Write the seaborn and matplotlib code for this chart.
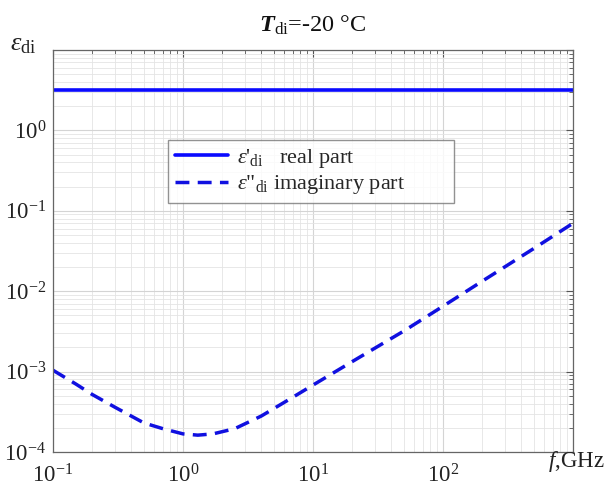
import numpy as np
import pandas as pd
import matplotlib
matplotlib.use("Agg")
import matplotlib.pyplot as plt
import seaborn as sns
from matplotlib.ticker import LogLocator, NullFormatter, FixedLocator

# Frequency grid (GHz) and permittivity of ice at -20 °C
freq_ghz = [0.1, 0.15, 0.2, 0.3, 0.5, 0.7, 1.0, 1.3, 1.7, 2.5, 4.0, 7.0,
            10.0, 20.0, 50.0, 100.0, 200.0, 500.0, 1000.0]
eps_real = [3.15] * len(freq_ghz)
eps_imag = [1.04e-3, 7.0e-4, 5.2e-4, 3.6e-4, 2.3e-4, 1.95e-4, 1.68e-4, 1.62e-4,
            1.68e-4, 1.95e-4, 2.8e-4, 4.8e-4, 6.8e-4, 1.33e-3, 3.2e-3, 6.5e-3,
            1.33e-2, 3.4e-2, 7.0e-2]
x_tick_vals = [0.1, 1, 10, 100]
x_tick_labels = [r"$10^{-1}$", r"$10^{0}$", r"$10^{1}$", r"$10^{2}$"]
y_tick_vals = [1e-4, 1e-3, 1e-2, 1e-1, 1e0]
y_tick_labels = [r"$10^{-4}$", r"$10^{-3}$", r"$10^{-2}$", r"$10^{-1}$", r"$10^{0}$"]

sns.set_style("white")
plt.rcParams["font.family"] = ["Liberation Serif", "DejaVu Serif"]
plt.rcParams["mathtext.fontset"] = "custom"
plt.rcParams["mathtext.rm"] = "Liberation Serif"
plt.rcParams["mathtext.it"] = "Liberation Serif:italic"
plt.rcParams["mathtext.bf"] = "Liberation Serif:bold:italic"

df = pd.DataFrame({
    "f": freq_ghz * 2,
    "eps": eps_real + eps_imag,
    "part": ["real"] * len(freq_ghz) + ["imag"] * len(freq_ghz),
})

W, H = 607, 487
fig = plt.figure(figsize=(W / 100, H / 100), dpi=100)
ax = fig.add_axes([53 / W, 1 - 452 / H, 520 / W, 402 / H])

sns.lineplot(data=df[df.part == "real"], x="f", y="eps", ax=ax, color="#0a0aff",
             lw=2.6, label=r"$\varepsilon$'$_{\rm di}$   real part")
sns.lineplot(data=df[df.part == "imag"], x="f", y="eps", ax=ax, color="#1010e0",
             lw=2.5, label=r'$\varepsilon$"$_{\rm di}$ imaginary part')
ax.lines[1].set_dashes([4.0, 2.4])

ax.set_xscale("log")
ax.set_yscale("log")
ax.set_xlim(0.1, 1000)
ax.set_ylim(1e-4, 10)

ax.xaxis.set_minor_locator(LogLocator(base=10, subs=np.arange(2, 10)))
ax.yaxis.set_minor_locator(LogLocator(base=10, subs=np.arange(2, 10)))
ax.xaxis.set_minor_formatter(NullFormatter())
ax.yaxis.set_minor_formatter(NullFormatter())
ax.set_xticks(x_tick_vals + [1000])
ax.set_xticklabels(x_tick_labels + [""])
ax.set_yticks(y_tick_vals + [10])
ax.set_yticklabels(y_tick_labels + [""])

ax.grid(True, which="major", color="#d4d4d4", lw=0.8)
ax.grid(True, which="minor", color="#e4e4e4", lw=0.6)
ax.tick_params(which="both", direction="in", top=True, right=True,
               colors="#555555", labelcolor="#222222")
ax.tick_params(which="major", length=5, labelsize=16.5)
ax.tick_params(axis="x", which="major", pad=9)
ax.tick_params(axis="y", which="major", pad=5)
ax.tick_params(which="minor", length=3)
for s in ax.spines.values():
    s.set_color("#666666")
    s.set_linewidth(0.9)

ax.set_xlabel("")
ax.set_ylabel("")
fig.text(10 / W, 1 - 50 / H, r"$\varepsilon_{\rm di}$", fontsize=19,
         ha="left", va="baseline", color="#222222")
fig.text(605 / W, 1 - 467 / H, r"$f$,GHz", fontsize=16.5,
         ha="right", va="baseline", color="#222222")
fig.text(313 / W, 1 - 32 / H, r"$\mathbf{T}_{\rm di}$=-20 °C", fontsize=17.5,
         ha="center", va="baseline", color="#111111")

leg = ax.legend(loc="lower left", bbox_to_anchor=(0.221, 0.619, 0.55, 0.165),
                mode="expand", fontsize=16, frameon=True, fancybox=False,
                handlelength=2.4, handletextpad=0.4, borderaxespad=0,
                labelspacing=0.15, borderpad=0.3)
leg.get_frame().set_edgecolor("#777777")
leg.get_frame().set_linewidth(1.0)

fig.savefig("out.png", dpi=100)
